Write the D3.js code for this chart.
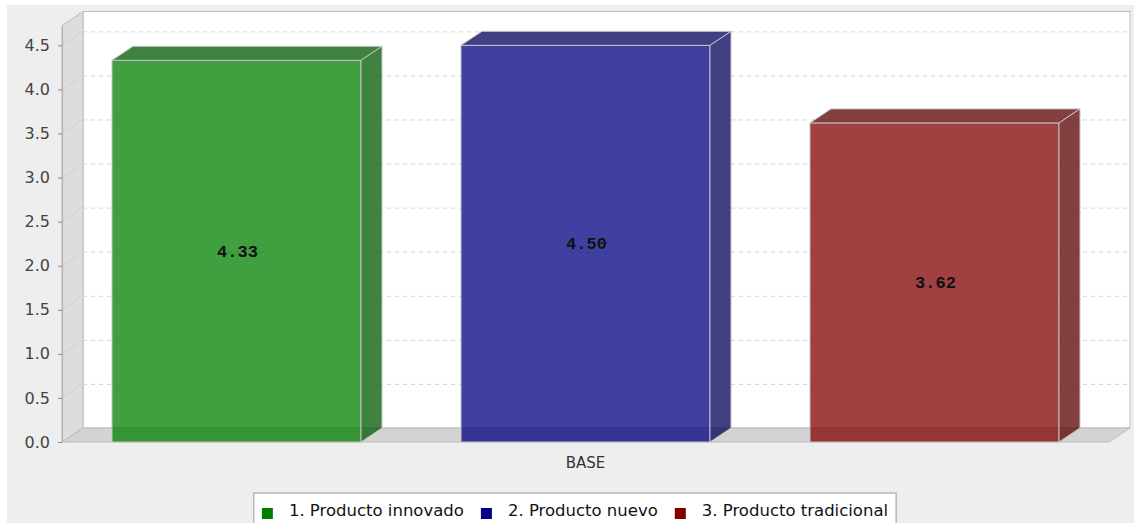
<!DOCTYPE html>
<html>
<head>
<meta charset="utf-8">
<script src="https://cdn.jsdelivr.net/npm/d3@7"></script>
<style>
  html, body { margin: 0; padding: 0; background: #ffffff; }
  svg { display: block; }
</style>
</head>
<body>
<div id="chart"></div>
<script>
// ---- data ----
const categories = ["BASE"];
const seriesNames = ["1. Producto innovado", "2. Producto nuevo", "3. Producto tradicional"];
const seriesValues = [4.33, 4.50, 3.62];
const seriesColors = ["#008000", "#000080", "#800000"];
const yTickValues = [0, 0.5, 1.0, 1.5, 2.0, 2.5, 3.0, 3.5, 4.0, 4.5];
const yMax = 4.725;

// ---- layout ----
const W = 1134, H = 523;
const depthX = 21, depthY = 14;
const plot = { left: 62, right: 1109, top: 25.5, bottom: 442 };

const svg = d3.select("#chart").append("svg").attr("width", W).attr("height", H);

svg.append("rect").attr("x", 7).attr("y", 5).attr("width", W - 7).attr("height", H - 5).attr("fill", "#eeeeee");

const y = d3.scaleLinear().domain([0, yMax]).range([plot.bottom, plot.top]);
const xCat = d3.scaleBand().domain(categories).range([plot.left, plot.right]).paddingOuter(0.0528).paddingInner(0);
const xSer = d3.scaleBand().domain(seriesNames).range([0, xCat.bandwidth()]).paddingInner(0.2865).paddingOuter(0);

// back wall
svg.append("rect")
  .attr("x", plot.left + depthX).attr("y", plot.top - depthY)
  .attr("width", plot.right - plot.left).attr("height", plot.bottom - plot.top)
  .attr("fill", "#ffffff").attr("stroke", "#bdbdbd").attr("stroke-width", 1);

// left wall
svg.append("polygon")
  .attr("points", [
    [plot.left, plot.top], [plot.left + depthX, plot.top - depthY],
    [plot.left + depthX, plot.bottom - depthY], [plot.left, plot.bottom]
  ].map(p => p.join(",")).join(" "))
  .attr("fill", "#dddddd").attr("stroke", "#bdbdbd").attr("stroke-width", 1);

// floor
svg.append("polygon")
  .attr("points", [
    [plot.left, plot.bottom], [plot.left + depthX, plot.bottom - depthY],
    [plot.right + depthX, plot.bottom - depthY], [plot.right, plot.bottom]
  ].map(p => p.join(",")).join(" "))
  .attr("fill", "#d3d3d3").attr("stroke", "#bdbdbd").attr("stroke-width", 1);

// gridlines
const grid = svg.append("g");
yTickValues.filter(v => v > 0).forEach(v => {
  const yy = y(v);
  grid.append("line")
    .attr("x1", plot.left + depthX).attr("x2", plot.right + depthX)
    .attr("y1", yy - depthY + 0.5).attr("y2", yy - depthY + 0.5)
    .attr("stroke", "#d4d4d4").attr("stroke-dasharray", "4,4");
  grid.append("line")
    .attr("x1", plot.left).attr("x2", plot.left + depthX)
    .attr("y1", yy).attr("y2", yy - depthY)
    .attr("stroke", "#c8c8c8").attr("stroke-dasharray", "2,2");
});

// y axis
const axis = svg.append("g")
  .attr("transform", `translate(${plot.left},0)`)
  .call(d3.axisLeft(y).tickValues(yTickValues).tickFormat(d3.format(".1f")).tickSize(4).tickSizeOuter(0).tickPadding(8));
axis.select(".domain").attr("stroke", "#b0b0b0");
axis.selectAll(".tick line").attr("stroke", "#888888");
axis.selectAll(".tick text")
  .attr("fill", "#444444")
  .style("font-family", "'DejaVu Sans', sans-serif")
  .style("font-size", "16px");

// bars
const bars = svg.append("g");
seriesNames.forEach((name, i) => {
  const v = seriesValues[i];
  const x0 = xCat(categories[0]) + xSer(name);
  const w = xSer.bandwidth();
  const yT = y(v), yB = y(0);
  const base = d3.color(seriesColors[i]);
  const dark = base.darker(1);
  const g = bars.append("g");
  const strokeC = "#c4c4c4";
  g.append("rect").attr("x", x0).attr("y", yT).attr("width", w).attr("height", yB - yT)
    .attr("fill", base).attr("fill-opacity", 0.75).attr("stroke", strokeC);
  g.append("polygon").attr("points", [[x0, yT], [x0 + depthX, yT - depthY], [x0 + w + depthX, yT - depthY], [x0 + w, yT]].map(p => p.join(",")).join(" "))
    .attr("fill", dark).attr("fill-opacity", 0.75).attr("stroke", strokeC);
  g.append("polygon").attr("points", [[x0 + w, yT], [x0 + w + depthX, yT - depthY], [x0 + w + depthX, yB - depthY], [x0 + w, yB]].map(p => p.join(",")).join(" "))
    .attr("fill", dark).attr("fill-opacity", 0.75).attr("stroke", strokeC);
  g.append("text")
    .attr("x", x0 + w / 2 + 1).attr("y", (yT + yB) / 2 + 1)
    .attr("text-anchor", "middle").attr("dominant-baseline", "central")
    .style("font-family", "'Liberation Mono', 'DejaVu Sans Mono', monospace")
    .style("font-weight", "bold").style("font-size", "17px")
    .attr("fill", "#111111")
    .text(d3.format(".2f")(v));
});

// category label
svg.append("text")
  .attr("x", xCat(categories[0]) + xCat.bandwidth() / 2)
  .attr("y", 463)
  .attr("text-anchor", "middle").attr("dominant-baseline", "central")
  .style("font-family", "'DejaVu Sans', sans-serif").style("font-size", "15px")
  .attr("fill", "#333333")
  .text(categories[0]);

// legend
const legend = svg.append("g");
const swatch = 11, swGap = 16, itemGap = 17, padX = 8;
const items = [];
let cx = 0;
seriesNames.forEach((name, i) => {
  const it = legend.append("g");
  it.append("rect").attr("x", 0).attr("y", -8).attr("width", swatch).attr("height", swatch).attr("fill", seriesColors[i]);
  const t = it.append("text").attr("x", swatch + swGap).attr("y", 0)
    .style("font-family", "'DejaVu Sans', sans-serif").style("font-size", "16.5px")
    .attr("fill", "#111111").text(name);
  const tw = t.node().getComputedTextLength();
  items.push({ g: it, x: cx });
  cx += swatch + swGap + tw + itemGap;
});
const legendW = cx - itemGap + 2 * padX;
const legendX = 575 - legendW / 2;
const legendY = 493;
legend.insert("rect", ":first-child")
  .attr("x", legendX).attr("y", legendY).attr("width", legendW).attr("height", 40)
  .attr("fill", "#ffffff").attr("stroke", "#999999");
items.forEach(d => d.g.attr("transform", `translate(${legendX + padX + d.x},${legendY + 23})`));
</script>
</body>
</html>
